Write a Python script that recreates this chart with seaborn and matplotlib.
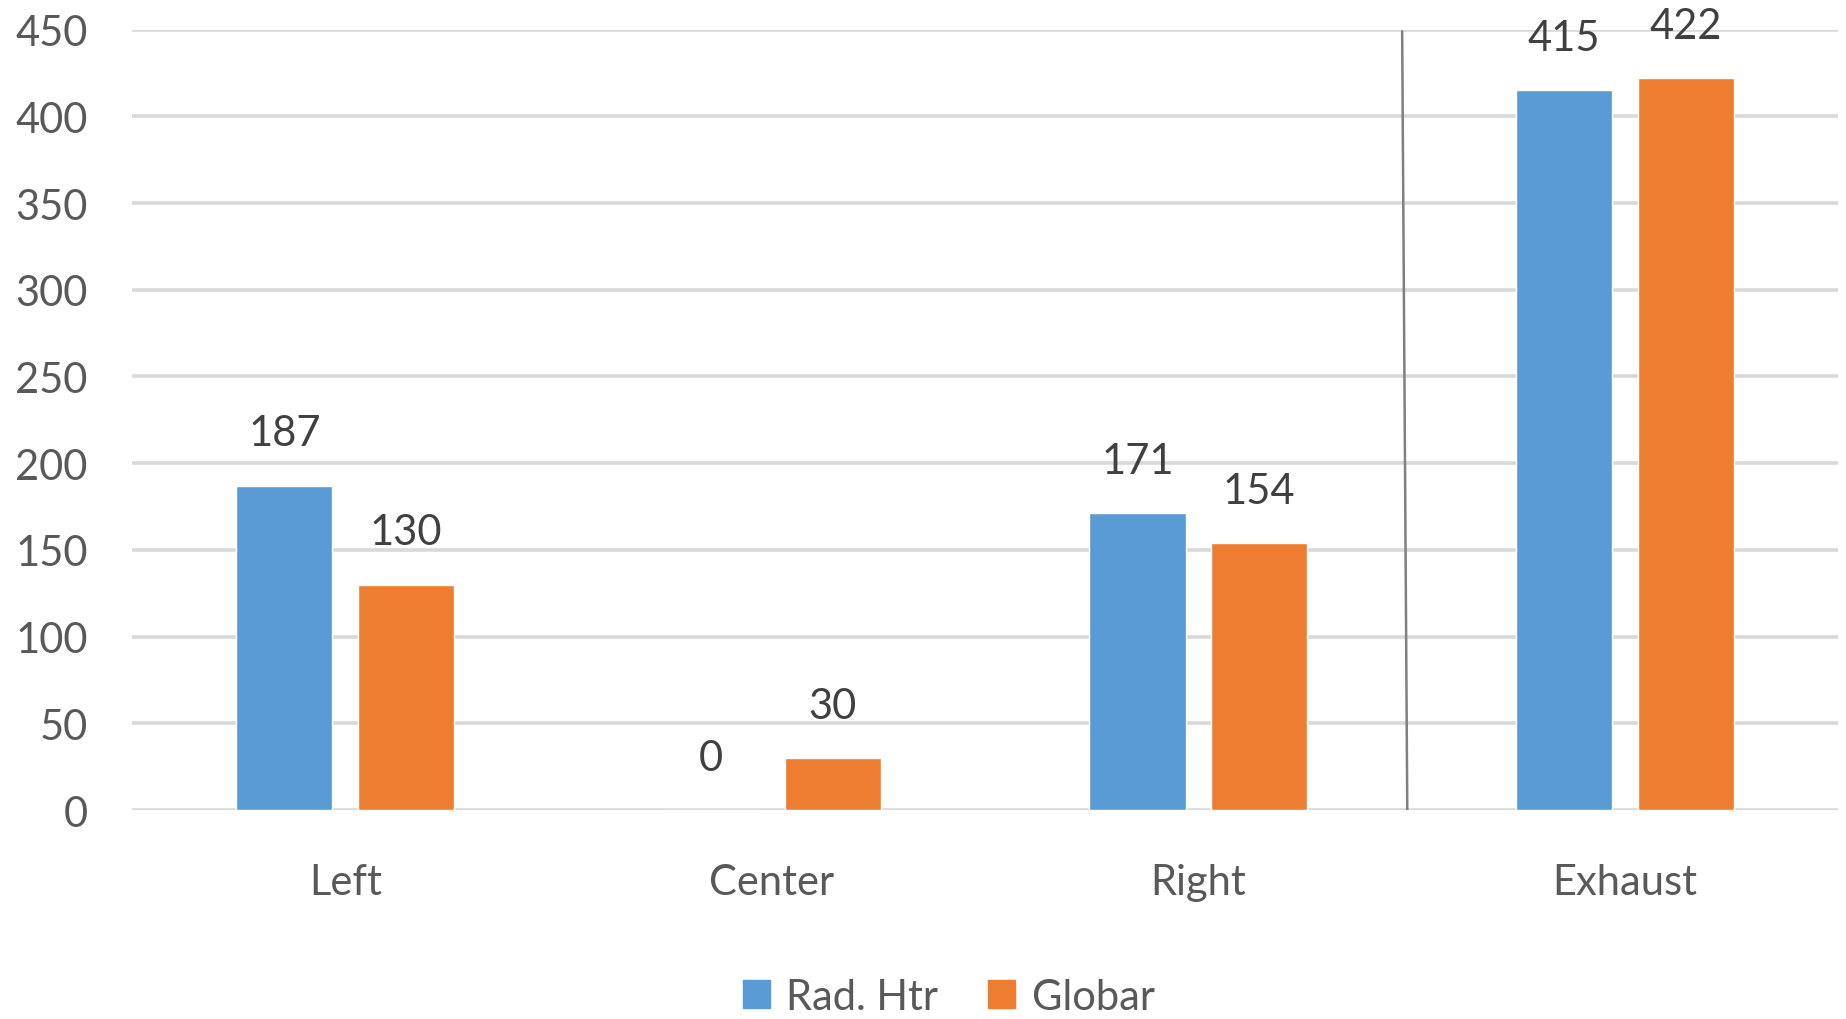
import matplotlib
matplotlib.use("Agg")
import matplotlib.pyplot as plt
import seaborn as sns
import pandas as pd
from matplotlib.patches import Patch

# Chart data
locations = ["Left", "Center", "Right", "Exhaust"]
series_names = ["Rad. Htr", "Globar"]
rad_htr = [187, 0, 171, 415]
globar = [130, 30, 154, 422]
y_ticks = [0, 50, 100, 150, 200, 250, 300, 350, 400, 450]

colors = ["#5B9BD5", "#ED7D31"]
text_color = "#595959"

df = pd.DataFrame({
    "Location": locations * 2,
    "Series": [series_names[0]] * len(locations) + [series_names[1]] * len(locations),
    "Value": rad_htr + globar,
})

sns.set_theme(style="white")
plt.rcParams["font.family"] = ["Lato", "DejaVu Sans"]

fig = plt.figure(figsize=(18.46, 10.20), dpi=100)
ax = fig.add_axes([0.0715, 0.2049, 0.9242, 0.7651])

sns.barplot(data=df, x="Location", y="Value", hue="Series", order=locations,
            hue_order=series_names, palette=colors, width=0.57, gap=0.21,
            saturation=1, errorbar=None, legend=False, ax=ax)

ax.set_xlim(-0.5, len(locations) - 0.5)
ax.set_ylim(0, 450)
ax.set_yticks(y_ticks)
ax.set_xlabel("")
ax.set_ylabel("")

for s in ax.spines.values():
    s.set_visible(False)
ax.yaxis.grid(True, color="#d9d9d9", linewidth=2.6)
ax.set_axisbelow(True)
ax.tick_params(axis="y", length=0, pad=32, labelsize=30, labelcolor=text_color)
ax.tick_params(axis="x", length=0, pad=38, labelsize=30, labelcolor=text_color)

# value labels above each bar
for cont in ax.containers:
    ax.bar_label(cont, fmt="%d", padding=24, fontsize=30, color="#404040", clip_on=False)

# separator between the room locations and the exhaust
ax.plot([2.478, 2.49], [449, 0], color="#808080", linewidth=1.8, zorder=1)

handles = [Patch(facecolor=c, edgecolor=c) for c in colors]
fig.legend(handles, series_names, loc="center", bbox_to_anchor=(0.514, 0.022),
           ncol=2, frameon=False, fontsize=30, labelcolor=text_color,
           handlelength=0.65, handleheight=0.65, handletextpad=0.4, columnspacing=1.2)

fig.savefig("out.png", dpi=100)
